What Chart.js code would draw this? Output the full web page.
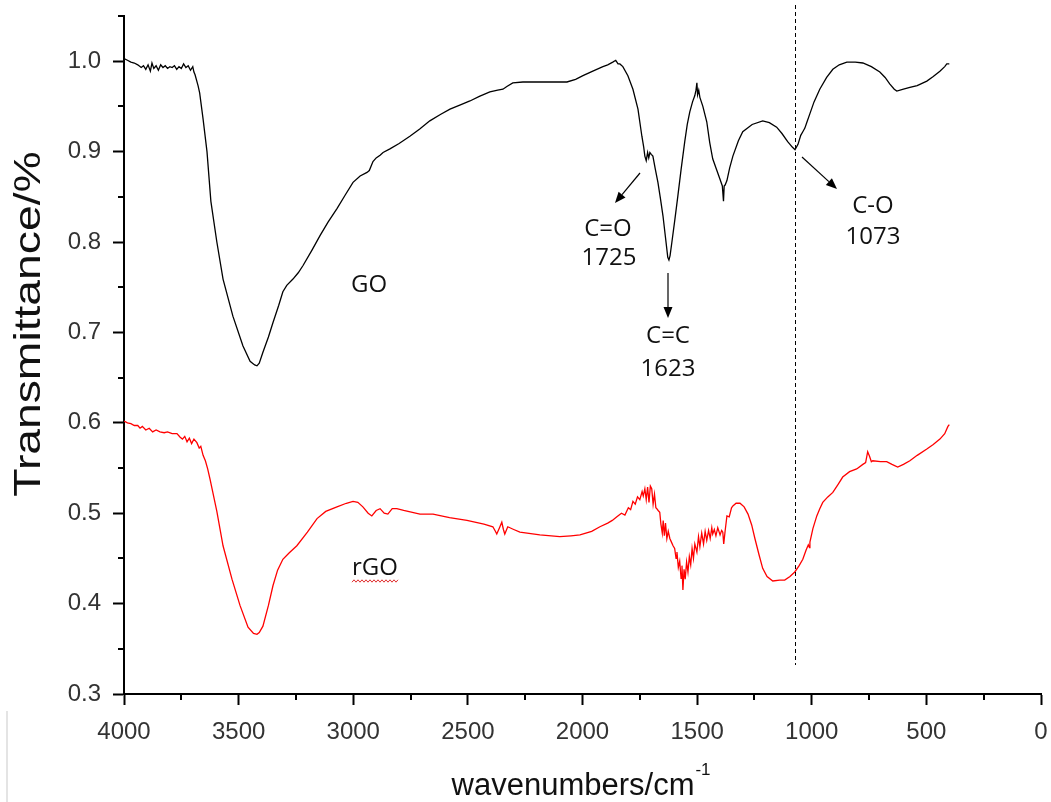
<!DOCTYPE html>
<html>
<head>
<meta charset="utf-8">
<script src="https://cdn.jsdelivr.net/npm/chart.js@4.4.1/dist/chart.umd.min.js"></script>
<style>
  html, body { margin: 0; padding: 0; background: #ffffff; }
  #wrap { width: 1051px; height: 802px; position: relative; }
</style>
</head>
<body>
<div id="wrap"><canvas id="c" width="1051" height="802"></canvas></div>
<script>
// ---------------- DATA ----------------
const goWavenumber = [4000,3985,3970,3955,3940,3925,3915,3905,3895,3885,3878,3870,3860,3850,3840,3830,3820,3810,3800,3790,3780,3770,3760,3750,3740,3730,3720,3710,3700,3695,3690,3677,3670,3655,3638,3621,3595,3568,3525,3481,3450,3430,3420,3410,3394,3370,3350,3325,3307,3290,3263,3240,3219,3180,3145,3110,3071,3035,3001,2970,2940,2930,2914,2900,2883,2870,2840,2800,2753,2710,2666,2620,2578,2530,2491,2450,2404,2370,2347,2330,2304,2260,2068,2030,1998,1955,1911,1890,1868,1855,1845,1837,1824,1802,1780,1758,1741,1733,1728,1722,1716,1711,1706,1700,1693,1682,1671,1660,1649,1638,1628,1623,1618,1610,1597,1584,1570,1554,1543,1532,1520,1510,1505,1501,1498,1493,1488,1475,1458,1445,1432,1415,1401,1390,1385,1382,1378,1370,1358,1344,1320,1301,1260,1214,1185,1153,1130,1105,1085,1073,1060,1048,1039,1030,1022,1008,990,965,935,908,880,847,810,777,740,703,680,660,640,629,600,572,540,498,470,441,420,411,400];
const goTransmittance = [1.003,1.001,0.999,0.998,0.996,0.993,0.995,0.991,0.996,0.989,0.998,0.992,0.995,0.990,0.996,0.993,0.995,0.992,0.994,0.993,0.995,0.991,0.994,0.992,0.997,0.993,0.995,0.990,0.994,0.988,0.985,0.973,0.965,0.936,0.900,0.845,0.800,0.759,0.718,0.685,0.668,0.664,0.663,0.666,0.678,0.695,0.711,0.730,0.745,0.752,0.759,0.766,0.774,0.791,0.807,0.822,0.837,0.852,0.866,0.873,0.877,0.879,0.889,0.893,0.896,0.899,0.903,0.909,0.917,0.925,0.934,0.941,0.947,0.952,0.956,0.961,0.966,0.968,0.969,0.972,0.976,0.977,0.977,0.980,0.984,0.989,0.994,0.996,0.999,1.001,0.997,0.997,0.994,0.984,0.969,0.947,0.917,0.905,0.895,0.890,0.899,0.893,0.899,0.897,0.895,0.880,0.866,0.848,0.829,0.805,0.783,0.780,0.785,0.800,0.825,0.851,0.880,0.911,0.930,0.944,0.955,0.962,0.968,0.976,0.963,0.968,0.960,0.950,0.933,0.910,0.892,0.880,0.870,0.862,0.845,0.862,0.863,0.868,0.882,0.895,0.912,0.922,0.930,0.934,0.932,0.927,0.920,0.911,0.905,0.902,0.908,0.918,0.922,0.926,0.932,0.942,0.955,0.969,0.982,0.991,0.996,0.999,0.999,0.998,0.994,0.988,0.982,0.975,0.969,0.967,0.969,0.971,0.973,0.978,0.983,0.989,0.994,0.997,0.997];

const rgoWavenumber = [4000,3985,3970,3955,3940,3930,3920,3905,3890,3875,3860,3843,3825,3810,3790,3769,3755,3745,3735,3725,3715,3705,3695,3682,3672,3665,3655,3645,3635,3625,3595,3568,3529,3494,3459,3435,3420,3410,3394,3370,3350,3330,3307,3280,3246,3200,3158,3120,3071,3030,3001,2980,2958,2935,2919,2900,2883,2865,2849,2830,2810,2780,2709,2652,2580,2504,2430,2391,2380,2374,2362,2352,2345,2339,2326,2300,2273,2186,2099,2050,2011,1960,1924,1890,1870,1850,1830,1815,1800,1790,1780,1770,1760,1750,1740,1735,1728,1722,1716,1710,1704,1698,1692,1686,1680,1676,1670,1663,1658,1652,1648,1643,1638,1632,1626,1619,1612,1605,1598,1592,1588,1582,1576,1570,1566,1562,1557,1552,1546,1540,1534,1528,1522,1516,1510,1501,1494,1488,1480,1472,1465,1458,1450,1443,1436,1432,1425,1418,1410,1400,1393,1388,1384,1378,1370,1360,1350,1344,1330,1313,1295,1278,1262,1248,1230,1214,1195,1170,1140,1118,1095,1074,1055,1039,1025,1015,1010,1008,995,978,965,952,930,908,885,865,835,804,777,765,756,748,740,734,700,673,650,625,600,572,540,498,470,441,420,406,400];
const rgoTransmittance = [0.602,0.600,0.599,0.597,0.597,0.594,0.596,0.592,0.594,0.590,0.592,0.590,0.589,0.590,0.588,0.588,0.584,0.582,0.585,0.579,0.583,0.577,0.582,0.578,0.572,0.574,0.564,0.558,0.549,0.538,0.502,0.464,0.427,0.398,0.374,0.367,0.366,0.368,0.375,0.398,0.420,0.437,0.449,0.456,0.464,0.479,0.494,0.502,0.507,0.511,0.513,0.512,0.507,0.500,0.497,0.503,0.505,0.500,0.499,0.505,0.505,0.503,0.499,0.499,0.495,0.492,0.488,0.485,0.480,0.477,0.484,0.490,0.482,0.477,0.485,0.482,0.479,0.476,0.474,0.475,0.476,0.480,0.485,0.489,0.492,0.496,0.500,0.498,0.506,0.504,0.513,0.510,0.518,0.515,0.524,0.519,0.527,0.515,0.529,0.512,0.530,0.527,0.510,0.521,0.506,0.505,0.503,0.501,0.488,0.478,0.492,0.475,0.489,0.472,0.480,0.472,0.468,0.464,0.461,0.450,0.457,0.440,0.447,0.428,0.442,0.415,0.438,0.427,0.446,0.435,0.452,0.443,0.461,0.450,0.466,0.457,0.474,0.463,0.478,0.466,0.480,0.470,0.481,0.472,0.484,0.477,0.482,0.475,0.484,0.476,0.481,0.479,0.466,0.480,0.497,0.496,0.506,0.508,0.511,0.511,0.507,0.499,0.487,0.472,0.454,0.439,0.430,0.425,0.426,0.426,0.430,0.435,0.442,0.449,0.459,0.465,0.462,0.468,0.483,0.497,0.505,0.512,0.518,0.523,0.532,0.540,0.546,0.549,0.554,0.556,0.568,0.563,0.557,0.558,0.557,0.557,0.554,0.551,0.554,0.558,0.564,0.571,0.576,0.582,0.588,0.596,0.598];

const yMajorTicks = [0.3,0.4,0.5,0.6,0.7,0.8,0.9,1.0];
const yMinorTicks = [0.35,0.45,0.55,0.65,0.75,0.85,0.95,1.05];
const xMajorTicks = [4000,3500,3000,2500,2000,1500,1000,500,0];
const xMinorTicks = [3750,3250,2750,2250,1750,1250,750,250];

const seriesNames = ['GO','rGO'];
const markerWavenumber = 1073;
const peakLabels = [
  { name: 'C=O', value: '1725' },
  { name: 'C=C', value: '1623' },
  { name: 'C-O', value: '1073' }
];

// -------------- BUILD -----------------
const toPoints = (xs, ys) => xs.map((x, i) => ({ x: x, y: ys[i] }));

const overlay = {
  id: 'overlay',
  afterDraw(chart) {
    const ctx = chart.ctx;
    const xs = chart.scales.x, ys = chart.scales.y;
    ctx.save();
    // minor ticks
    ctx.strokeStyle = '#000'; ctx.lineWidth = 2;
    yMinorTicks.forEach(v => {
      const py = Math.round(ys.getPixelForValue(v));
      ctx.beginPath(); ctx.moveTo(xs.left - 6, py); ctx.lineTo(xs.left, py); ctx.stroke();
    });
    xMinorTicks.forEach(v => {
      const px = Math.round(xs.getPixelForValue(v));
      ctx.beginPath(); ctx.moveTo(px, ys.bottom); ctx.lineTo(px, ys.bottom + 6); ctx.stroke();
    });
    // dashed marker line
    const mx = Math.round(xs.getPixelForValue(markerWavenumber)) + 0.5;
    ctx.lineWidth = 1; ctx.setLineDash([4, 3]);
    ctx.beginPath(); ctx.moveTo(mx, 5); ctx.lineTo(mx, 665); ctx.stroke();
    ctx.setLineDash([]);

    // arrows
    function arrow(x1, y1, x2, y2) {
      ctx.strokeStyle = '#000'; ctx.fillStyle = '#000'; ctx.lineWidth = 1.2;
      const a = Math.atan2(y2 - y1, x2 - x1), L = 11, W = 4.5;
      const bx = x2 - L * Math.cos(a), by = y2 - L * Math.sin(a);
      ctx.beginPath(); ctx.moveTo(x1, y1); ctx.lineTo(bx, by); ctx.stroke();
      ctx.beginPath();
      ctx.moveTo(x2, y2);
      ctx.lineTo(bx + W * Math.sin(a), by - W * Math.cos(a));
      ctx.lineTo(bx - W * Math.sin(a), by + W * Math.cos(a));
      ctx.closePath(); ctx.fill();
    }
    arrow(640, 173, 615, 203);
    arrow(668, 273, 668, 318);
    arrow(802, 157, 837, 189);

    // annotation texts
    ctx.fillStyle = '#111';
    ctx.font = '24px "Open Sans", "Noto Sans", sans-serif';
    ctx.textAlign = 'center'; ctx.textBaseline = 'middle';
    ctx.fillText(peakLabels[0].name, 608, 229);
    ctx.fillText(peakLabels[0].value, 609, 258);
    ctx.fillText(peakLabels[1].name, 668, 336);
    ctx.fillText(peakLabels[1].value, 668, 369);
    ctx.fillText(peakLabels[2].name, 873, 206);
    ctx.fillText(peakLabels[2].value, 873, 237);
    ctx.fillText(seriesNames[0], 369, 285);
    ctx.fillText(seriesNames[1], 375, 568);
    // red wavy underline under rGO
    ctx.strokeStyle = '#e03030'; ctx.lineWidth = 1;
    ctx.beginPath();
    for (let x = 352, k = 0; x <= 399; x += 2, k++) {
      const y = 581 + (k % 2 ? -1.2 : 1.2);
      if (k === 0) ctx.moveTo(x, y); else ctx.lineTo(x, y);
    }
    ctx.stroke();

    // axis titles
    ctx.fillStyle = '#111';
    ctx.font = '37px "Liberation Sans", Arial, sans-serif';
    ctx.save();
    ctx.translate(30, 324); ctx.rotate(-Math.PI / 2); ctx.scale(1.25, 1);
    ctx.textAlign = 'center'; ctx.textBaseline = 'middle';
    ctx.fillText('Transmittance/%', 0, 0);
    ctx.restore();

    ctx.font = '31px "Liberation Sans", Arial, sans-serif';
    ctx.textAlign = 'left'; ctx.textBaseline = 'alphabetic';
    const main = 'wavenumbers/cm';
    const w = ctx.measureText(main).width;
    const sx = 578 - (w + 10) / 2;
    ctx.fillText(main, sx, 795);
    ctx.font = '17px "Liberation Sans", Arial, sans-serif';
    ctx.fillText('-1', sx + w + 1, 775);

    // faint scan edge line
    ctx.strokeStyle = '#e4e4e4'; ctx.lineWidth = 2;
    ctx.beginPath(); ctx.moveTo(7, 711); ctx.lineTo(7, 802); ctx.stroke();
    ctx.restore();
  }
};

new Chart(document.getElementById('c'), {
  type: 'line',
  data: {
    datasets: [
      { label: seriesNames[0], data: toPoints(goWavenumber, goTransmittance), borderColor: '#000000', borderWidth: 1.3, pointRadius: 0, tension: 0, fill: false },
      { label: seriesNames[1], data: toPoints(rgoWavenumber, rgoTransmittance), borderColor: '#ff0000', borderWidth: 1.3, pointRadius: 0, tension: 0, fill: false }
    ]
  },
  options: {
    responsive: false,
    animation: false,
    devicePixelRatio: 1,
    layout: { padding: { top: 16, right: 10, left: 0, bottom: 0 } },
    plugins: { legend: { display: false }, tooltip: { enabled: false } },
    scales: {
      x: {
        type: 'linear', reverse: true, min: 0, max: 4000,
        afterFit: s => { s.height = 108; s.paddingLeft = 0; s.paddingRight = 0; },
        afterBuildTicks: s => { s.ticks = xMajorTicks.map(v => ({ value: v })); },
        ticks: { color: '#333', font: { family: '"Liberation Sans", Arial, sans-serif', size: 24 }, padding: 13, maxRotation: 0, autoSkip: false, callback: v => String(v) },
        grid: { drawOnChartArea: false, tickLength: 11, tickColor: '#000', tickWidth: 2 },
        border: { display: true, color: '#000', width: 2 }
      },
      y: {
        type: 'linear', min: 0.3, max: 1.05,
        afterFit: s => { s.width = 124; s.paddingTop = 0; s.paddingBottom = 0; },
        afterBuildTicks: s => { s.ticks = yMajorTicks.map(v => ({ value: v })); },
        ticks: { color: '#333', font: { family: '"Liberation Sans", Arial, sans-serif', size: 24 }, padding: 12, autoSkip: false, callback: v => Number(v).toFixed(1) },
        grid: { drawOnChartArea: false, tickLength: 11, tickColor: '#000', tickWidth: 2 },
        border: { display: true, color: '#000', width: 2 }
      }
    }
  },
  plugins: [overlay]
});
</script>
</body>
</html>
